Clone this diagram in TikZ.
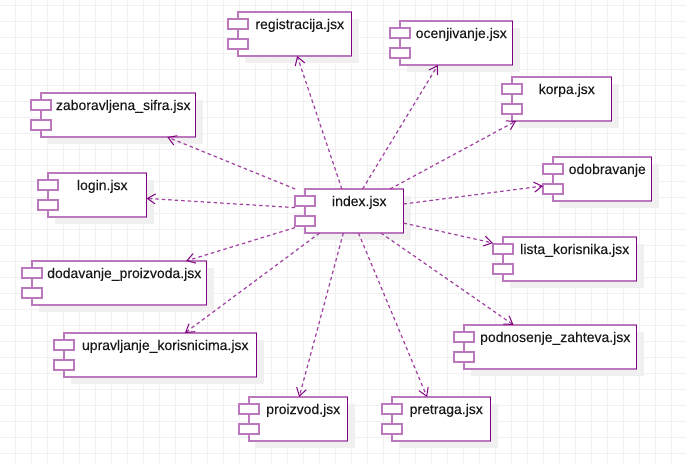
\documentclass[tikz,border=0pt]{standalone}
\usepackage{fontspec}
\setmainfont{Liberation Sans}[FakeBold=0.1]
\usetikzlibrary{arrows.meta}
\definecolor{umlpurple}{HTML}{800080}
\definecolor{umllight}{HTML}{BC78BC}
\definecolor{depcolor}{HTML}{A040A0}
\definecolor{gridgray}{HTML}{F0F0F0}
\tikzset{
  boxline/.style={draw=umllight,line width=1.7pt,fill=white},
  boxright/.style={draw=umlpurple,line width=1pt},
  dropshade/.style={fill=gridgray},
  bboxnode/.style={inner sep=0pt,outer sep=0pt,rectangle},
  lbl/.style={inner sep=0pt,anchor=base,text=black!90,font=\fontsize{14}{16}\selectfont},
  dep/.style={draw=depcolor,line width=1.2pt,dash pattern=on 3.5pt off 3pt,
    -{Straight Barb[length=8pt,width=10pt,line width=1pt,color=umlpurple]}},
}
\newcommand{\comp}[6]{%
  \fill[dropshade] ({#2+7},{#3+7}) rectangle ({#4+7},{#5+7});
  \draw[boxline] (#2,#3) rectangle (#4,#5);
  \draw[boxright] (#4,#3) -- (#4,#5);
  \draw[boxline] ({#2-10},{#3+7}) rectangle ({#2+10},{#3+17});
  \draw[boxline] ({#2-10},{#3+27}) rectangle ({#2+10},{#3+37});
  \node[bboxnode,minimum width={(#4-#2+10)*1pt},minimum height={(#5-#3)*1pt}] (#1) at ({(#2+#4-10)/2},{(#3+#5)/2}) {};
  \node[lbl] (#1-t) at ({(#2+#4)/2+5},{#3+17}) {#6};
}
\begin{document}
\begin{tikzpicture}[x=1pt,y=-1pt]
\useasboundingbox (0,0) rectangle (686,463);
\fill[white] (0,0) rectangle (686,463);
\foreach \gx in {15.5,31.5,...,686} \draw[gridgray,line width=1pt] (\gx,0) -- (\gx,463);
\foreach \gy in {5.5,21.5,...,463} \draw[gridgray,line width=1pt] (0,\gy) -- (686,\gy);
\comp{reg}{238}{12}{351.5}{56}{registracija.jsx}
\comp{oce}{400}{21}{512.5}{65}{ocenjivanje.jsx}
\comp{kor}{512}{77}{611.5}{121}{korpa.jsx}
\comp{odo}{553}{157}{651.5}{201}{odobravanje}
\comp{zab}{41}{93}{195.5}{137}{zaboravljena\_sifra.jsx}
\comp{log}{48}{173}{146.5}{217}{login.jsx}
\comp{ind}{305}{189}{403.5}{233}{index.jsx}
\comp{dod}{32}{261}{206.5}{305}{dodavanje\_proizvoda.jsx}
\comp{lis}{503}{237}{636.5}{281}{lista\_korisnika.jsx}
\comp{upr}{64}{333}{256.5}{377}{upravljanje\_korisnicima.jsx}
\comp{pod}{464}{325}{636.5}{369}{podnosenje\_zahteva.jsx}
\comp{pro}{249}{397}{347.5}{441}{proizvod.jsx}
\comp{pre}{392}{397}{490.5}{441}{pretraga.jsx}
\foreach \t in {reg,oce,kor,odo,lis,pod,pre,pro,upr,dod,log,zab}
  \draw[dep] (ind) -- (\t);
\end{tikzpicture}
\end{document}
